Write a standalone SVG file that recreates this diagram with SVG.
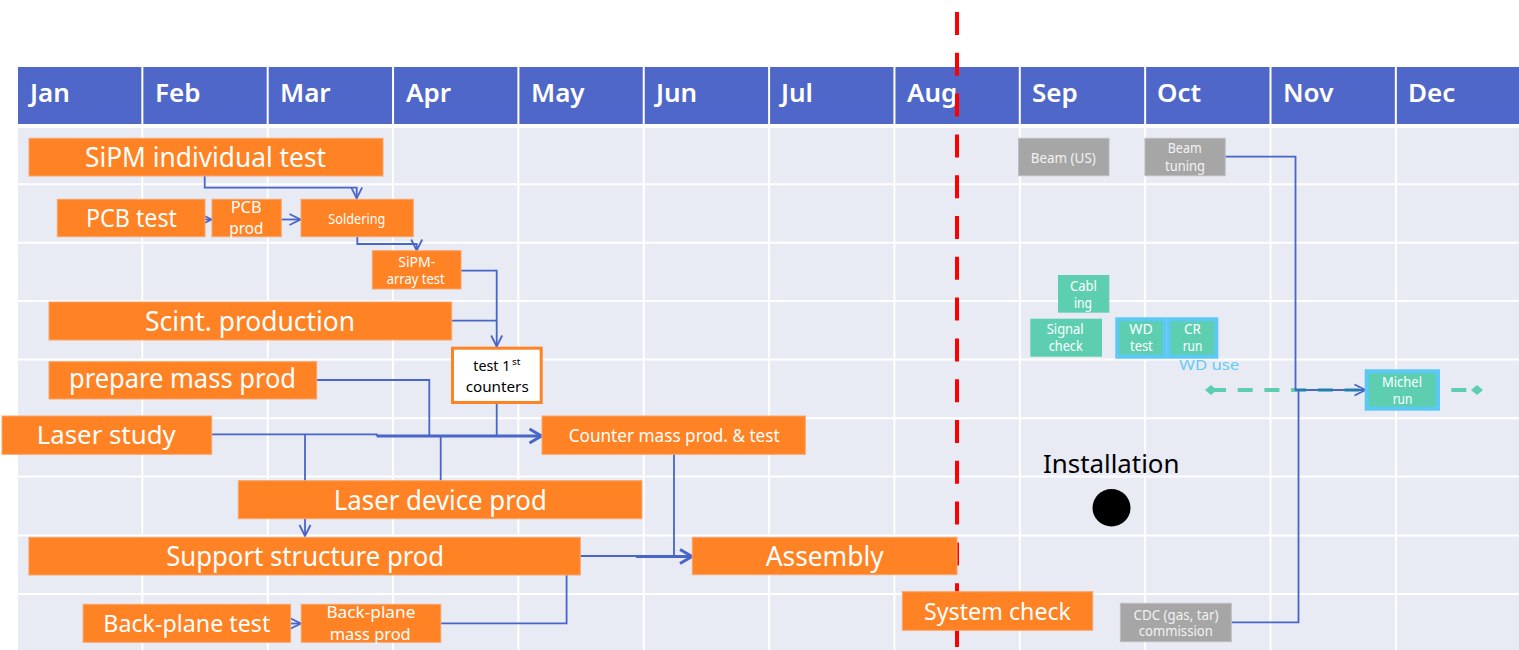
<svg xmlns="http://www.w3.org/2000/svg" width="1519" height="650" viewBox="0 0 1519 650">
  <style>
    .hdr { fill: #4F67C8; }
    .body { fill: #E8EAF4; }
    .grid { stroke: #FFFFFF; stroke-width: 2; fill: none; }
    .month { font-family: "Noto Sans", "Open Sans", sans-serif; font-weight: 600; font-size: 26px; fill: #FFFFFF; }
    .task { fill: #FF8224; stroke: #F7A66C; stroke-width: 1; }
    .grey { fill: #A6A6A6; stroke: #BDBDBD; stroke-width: 1; }
    .teal { fill: #5DCFB0; }
    .wd { fill: #5DCFB0; stroke: #5BC8F5; stroke-width: 4; }
    .milestone { fill: #FFFFFF; stroke: #FF8224; stroke-width: 3; }
    text { font-family: "Noto Sans", "Open Sans", sans-serif; }
    .t { fill: #FFFFFF; }
    .tg { fill: #F2F2F2; }
    .dark { fill: #000000; }
    .conn { stroke: #4865C8; stroke-width: 1.8; fill: none; }
    .conn-thick { stroke: #4865C8; stroke-width: 3; fill: none; }
    .today { stroke: #FF0000; stroke-width: 4; stroke-dasharray: 23 17.8; fill: none; }
    .span { stroke: #5DCFB0; stroke-width: 4; stroke-dasharray: 15 11.7; fill: none; }
  </style>
  <defs>
    <marker id="arr" markerUnits="userSpaceOnUse" markerWidth="14" markerHeight="14" viewBox="0 0 14 14" refX="12.5" refY="7" orient="auto">
      <path d="M1.5,1.5 L12.5,7 L1.5,12.5" stroke="#4865C8" stroke-width="1.8" fill="none"/>
    </marker>
    <marker id="arrBig" markerUnits="userSpaceOnUse" markerWidth="18" markerHeight="18" viewBox="0 0 18 18" refX="15" refY="9" orient="auto">
      <path d="M3,2 L15,9 L3,16" stroke="#4865C8" stroke-width="3" fill="none"/>
    </marker>
  </defs>

  <!-- calendar grid -->
  <g id="calendar">
    <rect x="0" y="0" width="1519" height="650" fill="#FFFFFF"/>
    <rect class="hdr" x="17" y="67" width="1502" height="57"/>
    <rect class="body" x="17" y="128" width="1502" height="522"/>
    <path class="grid" d="M16,66 H1519"/>
    <path class="grid" d="M17,66 V650 M142.35,66 V650 M267.7,66 V650 M393.05,66 V650 M518.4,66 V650 M643.75,66 V650 M769.1,66 V650 M894.45,66 V650 M1019.8,66 V650 M1145.15,66 V650 M1270.5,66 V650 M1395.85,66 V650"/>
    <path class="grid" d="M17,184.3 H1519 M17,242.7 H1519 M17,301 H1519 M17,359.5 H1519 M17,418.2 H1519 M17,476.4 H1519 M17,535.5 H1519 M17,594 H1519"/>
    <text class="month" x="30" y="101.7">Jan</text>
    <text class="month" x="155" y="101.7">Feb</text>
    <text class="month" x="280" y="101.7">Mar</text>
    <text class="month" x="406" y="101.7">Apr</text>
    <text class="month" x="531" y="101.7">May</text>
    <text class="month" x="656" y="101.7">Jun</text>
    <text class="month" x="781" y="101.7">Jul</text>
    <text class="month" x="907" y="101.7">Aug</text>
    <text class="month" x="1032" y="101.7">Sep</text>
    <text class="month" x="1157" y="101.7">Oct</text>
    <text class="month" x="1283" y="101.7">Nov</text>
    <text class="month" x="1408" y="101.7">Dec</text>
  </g>

  <!-- current date marker -->
  <path id="today" class="today" d="M957,12 V650"/>

  <!-- dependencies -->
  <g id="connectors">
    <path class="conn" d="M204.7,176 V187.7 H356.7 V198.3" marker-end="url(#arr)"/>
    <path class="conn" d="M199,219.5 H211.5" marker-end="url(#arr)"/>
    <path class="conn" d="M281.3,219.5 H300.5" marker-end="url(#arr)"/>
    <path class="conn" d="M357.3,236.7 V244 H416.7 V250.5" marker-end="url(#arr)"/>
    <path class="conn" d="M461,270.7 H496.7 V346.5" marker-end="url(#arr)"/>
    <path class="conn" d="M451.7,320.7 H496.7"/>
    <path class="conn" d="M496.7,404 V436"/>
    <path class="conn" d="M316.7,380 H429.3 V436"/>
    <path class="conn" d="M211.7,434.3 H376.7 V436"/>
    <path class="conn-thick" d="M376.7,436 H541.5" marker-end="url(#arrBig)"/>
    <path class="conn" d="M305,434.3 V536" marker-end="url(#arr)"/>
    <path class="conn" d="M440.7,436 V480.7"/>
    <path class="conn" d="M674,454.3 V556.5"/>
    <path class="conn" d="M440.8,623.3 H566.6 V556 H636"/>
    <path class="conn-thick" d="M636,556.5 H692" marker-end="url(#arrBig)"/>
    <path class="conn" d="M289.5,623.5 H300.8" marker-end="url(#arr)"/>
    <path class="span" d="M1211,390 H1477"/>
    <polygon points="1205,390 1211,385 1217,390 1211,395" fill="#5DCFB0"/>
    <polygon points="1471,390 1477,385 1483,390 1477,395" fill="#5DCFB0"/>
    <path class="conn" d="M1225.2,156.7 H1295.5 V390 H1365.5" marker-end="url(#arr)"/>
    <path class="conn" d="M1231.3,622.3 H1298.5 V390"/>
  </g>

  <!-- tasks -->
  <g id="sipm-individual-test">
    <rect class="task" x="29" y="138.3" width="354" height="37.7"/>
    <text class="t" x="85" y="167.3" font-size="28" textLength="241" lengthAdjust="spacingAndGlyphs">SiPM individual test</text>
  </g>
  <g id="pcb-test">
    <rect class="task" x="57.3" y="199.3" width="147.7" height="37.4"/>
    <text class="t" x="86" y="226.7" font-size="25" textLength="91" lengthAdjust="spacingAndGlyphs">PCB test</text>
  </g>
  <g id="pcb-prod">
    <rect class="task" x="212" y="199.3" width="69.3" height="37.4"/>
    <text class="t" x="230.7" y="213.3" font-size="16.5" textLength="31" lengthAdjust="spacingAndGlyphs">PCB</text>
    <text class="t" x="229.3" y="234" font-size="16.5" textLength="34" lengthAdjust="spacingAndGlyphs">prod</text>
  </g>
  <g id="soldering">
    <rect class="task" x="301" y="199.3" width="112.3" height="37.4"/>
    <text class="t" x="328.3" y="224.3" font-size="14" textLength="57" lengthAdjust="spacingAndGlyphs">Soldering</text>
  </g>
  <g id="sipm-array-test">
    <rect class="task" x="372.3" y="250.7" width="88.7" height="38.3"/>
    <text class="t" x="398.3" y="267.3" font-size="14" textLength="37" lengthAdjust="spacingAndGlyphs">SiPM-</text>
    <text class="t" x="386.7" y="284" font-size="14" textLength="58" lengthAdjust="spacingAndGlyphs">array test</text>
  </g>
  <g id="scint-production">
    <rect class="task" x="49" y="302" width="402.7" height="38"/>
    <text class="t" x="145" y="331" font-size="28" textLength="210" lengthAdjust="spacingAndGlyphs">Scint. production</text>
  </g>
  <g id="test-first-counters">
    <rect class="milestone" x="452.5" y="348.2" width="88.7" height="54.3"/>
    <text class="dark" x="473.3" y="371" font-size="15" textLength="37" lengthAdjust="spacingAndGlyphs">test 1</text>
    <text class="dark" x="512" y="364.5" font-size="9.5" textLength="8.5" lengthAdjust="spacingAndGlyphs">st</text>
    <text class="dark" x="465.7" y="392.3" font-size="15" textLength="63" lengthAdjust="spacingAndGlyphs">counters</text>
  </g>
  <g id="prepare-mass-prod">
    <rect class="task" x="49" y="361.7" width="267.7" height="37.3"/>
    <text class="t" x="69" y="388.3" font-size="27" textLength="227" lengthAdjust="spacingAndGlyphs">prepare mass prod</text>
  </g>
  <g id="laser-study">
    <rect class="task" x="2" y="416" width="209.7" height="38.3"/>
    <text class="t" x="36.7" y="444.3" font-size="26" textLength="139" lengthAdjust="spacingAndGlyphs">Laser study</text>
  </g>
  <g id="counter-mass-prod">
    <rect class="task" x="542" y="416" width="263.3" height="38.3"/>
    <text class="t" x="568.7" y="441.7" font-size="18.5" textLength="211" lengthAdjust="spacingAndGlyphs">Counter mass prod. &amp; test</text>
  </g>
  <g id="laser-device-prod">
    <rect class="task" x="238.3" y="480.7" width="403.6" height="38"/>
    <text class="t" x="333.8" y="510" font-size="27" textLength="213" lengthAdjust="spacingAndGlyphs">Laser device prod</text>
  </g>
  <g id="support-structure-prod">
    <rect class="task" x="28.9" y="537.3" width="551.4" height="37.7"/>
    <text class="t" x="166.2" y="566" font-size="27" textLength="278" lengthAdjust="spacingAndGlyphs">Support structure prod</text>
  </g>
  <g id="assembly">
    <rect class="task" x="692.3" y="537.3" width="264.7" height="37.4"/>
    <text class="t" x="765.7" y="565.7" font-size="27" textLength="118" lengthAdjust="spacingAndGlyphs">Assembly</text>
  </g>
  <g id="back-plane-test">
    <rect class="task" x="83.1" y="604.3" width="207.5" height="38"/>
    <text class="t" x="103.3" y="632.3" font-size="24" textLength="167" lengthAdjust="spacingAndGlyphs">Back-plane test</text>
  </g>
  <g id="back-plane-mass-prod">
    <rect class="task" x="301.2" y="604.3" width="139.6" height="38"/>
    <text class="t" x="326.4" y="617.7" font-size="16" textLength="89" lengthAdjust="spacingAndGlyphs">Back-plane</text>
    <text class="t" x="329.7" y="640" font-size="16" textLength="81" lengthAdjust="spacingAndGlyphs">mass prod</text>
  </g>
  <g id="system-check">
    <rect class="task" x="902.4" y="591.7" width="190.3" height="38.6"/>
    <text class="t" x="924" y="620" font-size="24" textLength="147" lengthAdjust="spacingAndGlyphs">System check</text>
  </g>

  <!-- commissioning -->
  <g id="installation">
    <text class="dark" x="1043" y="473.3" font-size="26" textLength="136.5" lengthAdjust="spacingAndGlyphs">Installation</text>
    <ellipse cx="1111.5" cy="507.8" rx="19" ry="18.7" fill="#000000"/>
  </g>
  <g id="beam-us">
    <rect class="grey" x="1018.5" y="138.3" width="90.5" height="37.4"/>
    <text class="tg" x="1030.8" y="163.3" font-size="14" textLength="65" lengthAdjust="spacingAndGlyphs">Beam (US)</text>
  </g>
  <g id="beam-tuning">
    <rect class="grey" x="1144.9" y="138.3" width="80.3" height="37.4"/>
    <text class="tg" x="1167.7" y="153.3" font-size="14" textLength="34" lengthAdjust="spacingAndGlyphs">Beam</text>
    <text class="tg" x="1165" y="170.7" font-size="14" textLength="40" lengthAdjust="spacingAndGlyphs">tuning</text>
  </g>
  <g id="cdc-commission">
    <rect class="grey" x="1120.4" y="603.3" width="110.9" height="38.4"/>
    <text class="tg" x="1133.5" y="620" font-size="13.5" textLength="85" lengthAdjust="spacingAndGlyphs">CDC (gas, tar)</text>
    <text class="tg" x="1138.8" y="636" font-size="13.5" textLength="74" lengthAdjust="spacingAndGlyphs">commission</text>
  </g>
  <g id="cabling">
    <rect class="teal" x="1058" y="275" width="51.3" height="37.7"/>
    <text class="t" x="1070" y="290.7" font-size="14" textLength="27" lengthAdjust="spacingAndGlyphs">Cabl</text>
    <text class="t" x="1074" y="307.7" font-size="14" textLength="18" lengthAdjust="spacingAndGlyphs">ing</text>
  </g>
  <g id="signal-check">
    <rect class="teal" x="1030.3" y="318.7" width="71.7" height="38"/>
    <text class="t" x="1046.7" y="334" font-size="14" textLength="37" lengthAdjust="spacingAndGlyphs">Signal</text>
    <text class="t" x="1048.7" y="351" font-size="14" textLength="34" lengthAdjust="spacingAndGlyphs">check</text>
  </g>
  <g id="wd-test">
    <rect class="wd" x="1117.3" y="319.3" width="47.4" height="37.4"/>
    <text class="t" x="1129.3" y="334" font-size="14" textLength="23.4" lengthAdjust="spacingAndGlyphs">WD</text>
    <text class="t" x="1130" y="351" font-size="14" textLength="22.7" lengthAdjust="spacingAndGlyphs">test</text>
  </g>
  <g id="cr-run">
    <rect class="wd" x="1168.7" y="319.3" width="47.6" height="37.4"/>
    <text class="t" x="1184" y="334" font-size="14" textLength="16.7" lengthAdjust="spacingAndGlyphs">CR</text>
    <text class="t" x="1182.7" y="351" font-size="14" textLength="19.6" lengthAdjust="spacingAndGlyphs">run</text>
  </g>
  <g id="wd-use">
    <text x="1179.3" y="370" font-size="15" fill="#66CCF5" textLength="60" lengthAdjust="spacingAndGlyphs">WD use</text>
  </g>
  <g id="michel-run">
    <rect class="wd" x="1366.7" y="371.3" width="71.3" height="37.4"/>
    <text class="t" x="1382" y="387.3" font-size="14" textLength="40" lengthAdjust="spacingAndGlyphs">Michel</text>
    <text class="t" x="1392.7" y="404" font-size="14" textLength="19.6" lengthAdjust="spacingAndGlyphs">run</text>
  </g>
</svg>
